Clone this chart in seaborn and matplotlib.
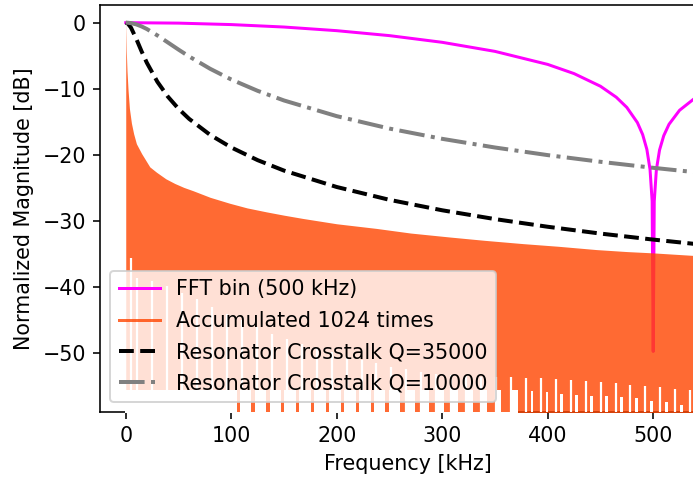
import matplotlib
matplotlib.use("Agg")
import matplotlib.pyplot as plt
import seaborn as sns
import pandas as pd
from matplotlib.lines import Line2D

# ---------------- data ----------------
# FFT bin response (500 kHz), dB
fft_f = [0, 50, 100, 150, 200, 250, 300, 350, 400, 425, 450, 465, 475, 485, 490,
         494, 497, 499, 500, 501, 503, 506, 510, 515, 525, 540, 555]
fft_db = [0, -0.07, -0.29, -0.66, -1.21, -1.96, -2.97, -4.34, -6.31, -7.70, -9.61,
          -11.27, -12.81, -15.10, -16.91, -19.16, -22.19, -26.98, -49.7, -27.00,
          -22.24, -19.26, -17.08, -15.36, -13.24, -11.35, -10.13]

# Accumulated 1024 times: upper envelope
acc_f = [0, 0.5, 1.2, 2.2, 3.5, 5.4, 7.5, 10.1, 15.1, 22.8, 29.1, 38, 46.4, 55,
         63.8, 80, 98.6, 115, 133.4, 150, 168.1, 200, 237.6, 270, 307.1, 340,
         376.6, 410, 446.1, 475, 500, 520, 560]
acc_db = [0, -4.2, -7.3, -10.2, -13.0, -15.2, -16.8, -18.3, -19.8, -21.8, -22.6,
          -23.6, -24.3, -24.9, -25.4, -26.4, -27.3, -28.0, -28.6, -29.1, -29.6,
          -30.4, -31.1, -31.8, -32.4, -32.9, -33.4, -33.8, -34.3, -34.6, -34.8,
          -35.0, -35.4]
# lower structure of the accumulated response
band_f = [-1, 372]            # region where the response floor stays high
band_top = -55.5
dip_f = [106.5, 120.6, 134.8, 148.9, 163.1, 177.3, 191.4, 205.6, 219.7, 233.9,
         248.1, 262.2, 276.4, 290.5, 304.7, 318.9, 333.0, 347.2, 361.3]
dip_w = [3, 3, 3, 3, 3, 3, 3, 3, 3.2, 3.5, 3.8, 4.2, 4.8, 5.5, 6.5, 7.5, 8.5,
         9.5, 10.5]
peak_f = [4.8, 11.1, 25.3, 39.5, 53.6, 67.8, 81.9, 96.1, 110.3, 124.4, 138.6,
          152.7, 166.9, 181.1, 195.2, 209.4, 223.5, 237.7, 251.9, 266.0, 280.2,
          294.3, 308.5, 322.7, 336.8, 351.0, 365.1, 379.3, 393.5, 407.6, 421.8,
          435.9, 450.1, 464.3, 478.4, 492.6, 506.7, 520.9, 535.1]
peak_db = [-35.5, -38.6, -39.0, -39.8, -40.8, -41.8, -43, -44, -45, -46, -47,
           -47.8, -48.5, -49.2, -49.8, -50.4, -51, -51.5, -52, -52.4, -52.8,
           -53.1, -53.3, -53.4, -53.5, -53.6, -53.6, -53.7, -53.75, -53.85,
           -54.0, -54.15, -54.3, -54.5, -54.7, -54.9, -55.1, -55.3, -55.6]
side_f = [385.0, 399.2, 413.3, 427.5, 441.6, 455.8, 470.0, 484.1, 498.3, 512.4,
          526.6, 540.8]
side_db = [-55.65, -55.9, -56.1, -56.25, -56.4, -56.5, -56.65, -56.75, -57.25,
           -57.4, -57.75, -58.0]

# Resonator crosstalk curves
xt_f = [0, 2, 5, 10, 15, 20, 30, 40, 50, 60, 80, 100, 125, 150, 200, 250, 300,
        350, 400, 450, 500, 550]
xt35_db = [0, -0.13, -0.76, -2.45, -4.33, -6.06, -8.94, -11.19, -13.01, -14.53,
           -16.96, -18.86, -20.78, -22.36, -24.84, -26.78, -28.36, -29.69,
           -30.85, -31.88, -32.79, -33.62]
xt10_db = [0, -0.01, -0.07, -0.26, -0.57, -0.96, -1.93, -3.00, -4.07, -5.10,
           -6.97, -8.59, -10.30, -11.76, -14.13, -16.01, -17.56, -18.87, -20.02,
           -21.03, -21.94, -22.77]

labels = ["FFT bin (500 kHz)", "Accumulated 1024 times",
          "Resonator Crosstalk Q=35000", "Resonator Crosstalk Q=10000"]

# ---------------- figure ----------------
plt.rcParams["font.size"] = 10.3
DPI = 144
fig = plt.figure(figsize=(693 / DPI, 478 / DPI), dpi=DPI)
ax = fig.add_axes([100 / 693, 66 / 478, 0.8896, 407 / 478])

FLOOR = -70
ORANGE = "orangered"

sns.lineplot(x=fft_f, y=fft_db, ax=ax, color="magenta", lw=1.5, zorder=2)

ax.fill_between(acc_f, acc_db, FLOOR, color=ORANGE, alpha=0.8, lw=0, zorder=3)
ax.fill_between(band_f, [band_top, band_top], FLOOR, color="white", lw=0, zorder=3.1)
ax.bar(dip_f, [band_top - FLOOR] * len(dip_f), bottom=FLOOR, width=dip_w,
       color=ORANGE, alpha=0.8, lw=0, zorder=3.2)
ax.vlines(peak_f, FLOOR, peak_db, color="white", lw=1.1, zorder=3.3)
ax.bar(side_f, [d - FLOOR for d in side_db], bottom=FLOOR, width=2.5,
       color="white", lw=0, zorder=3.3)

sns.lineplot(x=xt_f, y=xt35_db, ax=ax, color="black", lw=2, linestyle="--", zorder=4)
sns.lineplot(x=xt_f, y=xt10_db, ax=ax, color="gray", lw=2, linestyle="-.", zorder=4)

ax.set_xlim(-24.4, 560)
ax.set_ylim(-58.85, 2.67)
ax.set_xticks([0, 100, 200, 300, 400, 500])
ax.set_yticks([0, -10, -20, -30, -40, -50])
ax.set_xlabel("Frequency [kHz]")
ax.set_ylabel("Normalized Magnitude [dB]")

handles = [Line2D([], [], color="magenta", lw=1.5),
           Line2D([], [], color=ORANGE, alpha=0.8, lw=1.5),
           Line2D([], [], color="black", lw=2, ls="--"),
           Line2D([], [], color="gray", lw=2, ls="-.")]
leg = ax.legend(handles, labels, loc="lower left", labelspacing=0.55)
leg.set_zorder(10)

fig.savefig("out.png", dpi=DPI)
